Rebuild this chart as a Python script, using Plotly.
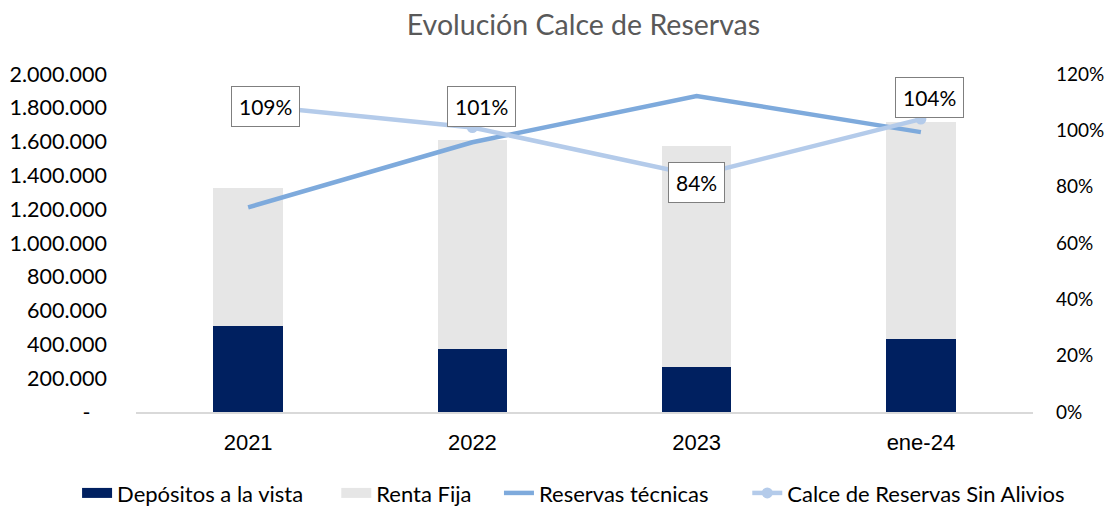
import plotly.graph_objects as go

# data
categories = ["2021", "2022", "2023", "ene-24"]
depositos = [510000, 374000, 267000, 433000]
renta_fija_total = [1323000, 1608000, 1573000, 1715000]
renta_fija = [t - d for t, d in zip(renta_fija_total, depositos)]
reservas_tecnicas = [1211000, 1596000, 1870000, 1656000]
calce = [1.09, 1.01, 0.84, 1.04]

left_ticks = [0, 200000, 400000, 600000, 800000, 1000000, 1200000,
              1400000, 1600000, 1800000, 2000000]
left_ticktext = ["-\u00a0\u00a0\u00a0"] + [f"{v:,}".replace(",", ".") for v in left_ticks[1:]]

FONT = "Lato, 'Open Sans', sans-serif"
NAVY = "#002060"
GRAY = "#E6E6E6"
NB = "\u00a0"  # padding so legend entries spread like Excel's

fig = go.Figure()

fig.add_trace(go.Bar(
    x=categories, y=depositos, name="Depósitos a la vista", showlegend=False,
    marker=dict(color=NAVY, line=dict(width=0)), width=0.31
))
fig.add_trace(go.Bar(
    x=categories, y=renta_fija, name="Renta Fija", showlegend=False,
    marker=dict(color=GRAY, line=dict(width=0)), width=0.31
))
# wide rectangular legend keys for the bar series (Excel style)
for name, color, pad in [("Depósitos a la vista", NAVY, 5), ("Renta Fija", GRAY, 4)]:
    fig.add_trace(go.Scatter(
        x=[None], y=[None], name=name + NB * pad, mode="lines",
        line=dict(color=color, width=16), hoverinfo="skip"
    ))
fig.add_trace(go.Scatter(
    x=categories, y=reservas_tecnicas, name="Reservas técnicas" + NB * 6,
    mode="lines", line=dict(color="#7EAADC", width=4.5)
))
fig.add_trace(go.Scatter(
    x=categories, y=calce, name="Calce de Reservas Sin Alivios",
    mode="lines+markers", yaxis="y2",
    line=dict(color="#B4CBEA", width=4.5),
    marker=dict(color="#B4CBEA", size=11)
))

# data labels for the ratio line (offsets are styling only)
# x given as category index: "2021" etc. would be read as numeric positions
label_offsets = [(17, -2), (9, 21), (0, -7), (9, 22)]
for i, (val, (dx, dy)) in enumerate(zip(calce, label_offsets)):
    fig.add_annotation(
        x=i, y=val, yref="y2", text=f"{val:.0%}", showarrow=False,
        xshift=dx, yshift=dy,
        font=dict(family=FONT, size=21, color="#000000"),
        bgcolor="#FFFFFF", bordercolor="#7F7F7F", borderwidth=1, borderpad=7
    )

# page body has an 8px margin, so the figure is laid out 8px up/left;
# extra height below keeps the legend from squeezing the plot
fig.update_layout(
    width=1113, height=530,
    barmode="stack",
    plot_bgcolor="#FFFFFF", paper_bgcolor="#FFFFFF",
    margin=dict(l=128, r=88, t=66, b=126),
    title=dict(text="Evolución Calce de Reservas", x=0.517, xanchor="center",
               y=1 - 17 / 530, yanchor="middle",
               font=dict(family=FONT, size=28.5, color="#595959")),
    showlegend=True,
    legend=dict(orientation="h", x=-0.0657, xanchor="left",
                y=-0.24, yanchor="middle",
                font=dict(family=FONT, size=22, color="#000000"),
                traceorder="normal"),
    xaxis=dict(type="category", range=[-0.5, 3.5], showgrid=False, showline=True,
               linecolor="#D9D9D9", linewidth=1.5, ticks="", automargin=False,
               ticklabelstandoff=10,
               tickfont=dict(family="'Liberation Sans', Arial", size=22,
                             color="#000000")),
    yaxis=dict(range=[0, 2000000], tickvals=left_ticks, ticktext=left_ticktext,
               showgrid=False, zeroline=False, showline=False, automargin=False,
               ticklabelstandoff=28,
               tickfont=dict(family=FONT, size=21.5, color="#000000")),
    yaxis2=dict(range=[0, 1.2], overlaying="y", side="right", tickformat=".0%",
                dtick=0.2, showgrid=False, zeroline=False, showline=False,
                automargin=False, ticklabelstandoff=22,
                tickfont=dict(family=FONT, size=19, color="#000000")),
)

fig.write_html("out.html")
